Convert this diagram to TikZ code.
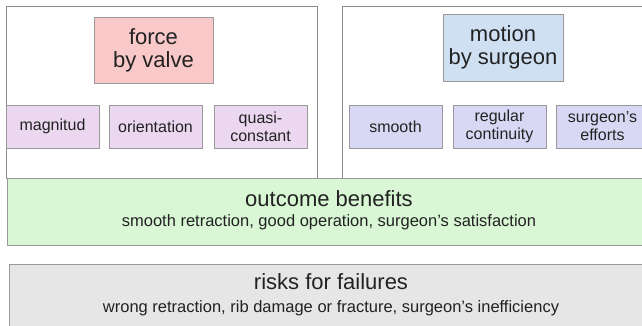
\documentclass[tikz,border=0pt]{standalone}
\usepackage{fontspec}
\setmainfont{Liberation Sans}
\definecolor{edge}{HTML}{999999}
\definecolor{frameedge}{HTML}{8C8C8C}
\definecolor{forcefill}{HTML}{F9C9C9}
\definecolor{motionfill}{HTML}{CFE0F3}
\definecolor{leftsub}{HTML}{EBD8F0}
\definecolor{rightsub}{HTML}{D9D8F4}
\definecolor{goodfill}{HTML}{D9F7D5}
\definecolor{riskfill}{HTML}{E6E6E6}
\definecolor{ink}{HTML}{222222}
\tikzset{
  frame/.style={draw=frameedge, line width=0.8pt, fill=white, inner sep=0pt},
  headbox/.style={draw=edge, line width=0.8pt, align=center, text=ink, inner sep=0pt,
    font=\fontsize{22}{23}\selectfont},
  subbox/.style={draw=edge, line width=0.8pt, align=center, text=ink, inner sep=0pt,
    minimum width=93pt, minimum height=43pt, font=\fontsize{16}{18}\selectfont},
  bandbox/.style={draw=edge, line width=0.8pt, align=center, text=ink, inner sep=0pt,
    font=\fontsize{16.5}{20}\selectfont}
}
\begin{document}
\begin{tikzpicture}[x=1pt,y=-1pt]
\useasboundingbox (0,0) rectangle (642,326);
\clip (0,0) rectangle (642,326);
% frames
\node[frame, minimum width=311pt, minimum height=172pt] (frameL) at (161.5,92) {};
\node[frame, minimum width=318pt, minimum height=172pt] (frameR) at (501,92) {};
% head boxes
\node[headbox, fill=forcefill, minimum width=119pt, minimum height=66pt] (force) at (153.5,50) {force\\by valve};
\node[headbox, fill=motionfill, minimum width=120pt, minimum height=67pt] (motion) at (503,47.5) {motion\\by surgeon};
% sub boxes left
\node[subbox, fill=leftsub] (magn) at (52.5,126.5) {magnitud};
\node[subbox, fill=leftsub] (orient) at (155.5,126.5) {orientation};
\node[subbox, fill=leftsub] (quasi) at (260.5,126.5) {quasi-\\constant};
% sub boxes right
\node[subbox, fill=rightsub] (smooth) at (395.5,126.5) {smooth};
\node[subbox, fill=rightsub] (regular) at (499.5,126.5) {regular\\continuity};
\node[subbox, fill=rightsub] (efforts) at (602.5,126.5) {surgeon's\\efforts};
% bands
\node[bandbox, fill=goodfill, minimum width=644pt, minimum height=67pt] (outcome) at (329,211.5) {};
\node[text=ink, align=center, inner sep=0pt, font=\fontsize{16.5}{20}\selectfont] (outcometext) at (329,210)
  {{\fontsize{22}{23}\selectfont outcome benefits}\\
   smooth retraction, good operation, surgeon's satisfaction};
\node[bandbox, fill=riskfill, minimum width=644pt, minimum height=67pt] (risks) at (331,297.5) {};
\node[text=ink, align=center, inner sep=0pt, font=\fontsize{16.5}{20}\selectfont] (riskstext) at (331,294.5)
  {{\fontsize{22}{23}\selectfont risks for failures}\\[3pt]
   wrong retraction, rib damage or fracture, surgeon's inefficiency};
\end{tikzpicture}
\end{document}
